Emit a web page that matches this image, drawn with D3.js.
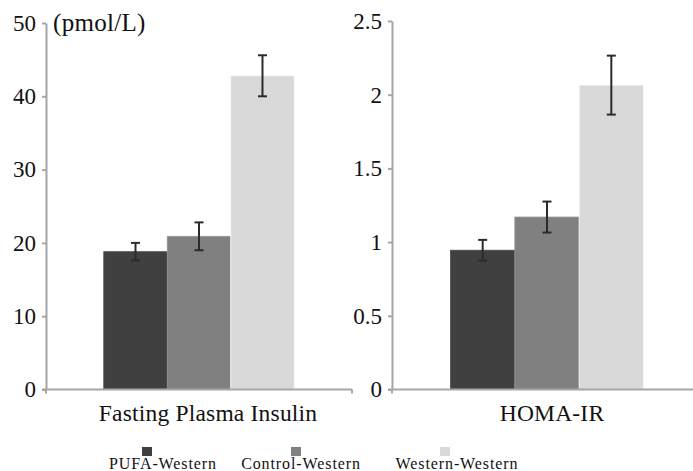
<!DOCTYPE html>
<html>
<head>
<meta charset="utf-8">
<script src="https://cdn.jsdelivr.net/npm/d3@7"></script>
<style>
  body { margin: 0; background: #fff; }
  svg { display: block; font-family: "Liberation Serif", "Times New Roman", serif; }
</style>
</head>
<body>
<svg id="chart"></svg>
<script>
const groups = ["PUFA-Western", "Control-Western", "Western-Western"];
const colors = ["#404040", "#808080", "#d9d9d9"];

const insulinMean = [18.8, 20.9, 42.8];
const insulinErr = [1.2, 1.9, 2.8];
const insulinTicks = [0, 10, 20, 30, 40, 50];

const homaMean = [0.945, 1.17, 2.065];
const homaErr = [0.07, 0.105, 0.2];
const homaTicks = [0, 0.5, 1, 1.5, 2, 2.5];

const width = 693, height = 471;
const axisColor = "#a6a6a6";

const svg = d3.select("#chart")
    .attr("width", width)
    .attr("height", height);

function drawPanel(opt) {
    const x = d3.scaleBand()
        .domain(groups)
        .range([opt.left, opt.right])
        .paddingInner(0)
        .paddingOuter(0.91);

    const y = d3.scaleLinear()
        .domain([0, opt.ticks[opt.ticks.length - 1]])
        .range([389.5, opt.top]);

    const g = svg.append("g");

    // bars
    const rows = groups.map((k, i) => ({ key: k, mean: opt.mean[i], err: opt.err[i], color: colors[i] }));
    g.selectAll(".bar")
        .data(rows)
        .enter()
        .append("rect")
        .attr("x", d => x(d.key))
        .attr("y", d => y(d.mean))
        .attr("width", x.bandwidth())
        .attr("height", d => y(0) - y(d.mean))
        .attr("fill", d => d.color)
        .attr("stroke", d => d3.color(d.color).brighter(0.4))
        .attr("stroke-width", 0.8);

    // error bars
    const eb = g.selectAll(".err")
        .data(rows)
        .enter()
        .append("g")
        .attr("stroke", "#2b2b2b")
        .attr("stroke-width", 2);
    eb.append("line")
        .attr("x1", d => x(d.key) + x.bandwidth() / 2)
        .attr("x2", d => x(d.key) + x.bandwidth() / 2)
        .attr("y1", d => y(d.mean + d.err))
        .attr("y2", d => y(d.mean - d.err));
    eb.append("line")
        .attr("x1", d => x(d.key) + x.bandwidth() / 2 - 4.5)
        .attr("x2", d => x(d.key) + x.bandwidth() / 2 + 4.5)
        .attr("y1", d => y(d.mean + d.err))
        .attr("y2", d => y(d.mean + d.err));
    eb.append("line")
        .attr("x1", d => x(d.key) + x.bandwidth() / 2 - 4.5)
        .attr("x2", d => x(d.key) + x.bandwidth() / 2 + 4.5)
        .attr("y1", d => y(d.mean - d.err))
        .attr("y2", d => y(d.mean - d.err));

    // x axis line with end ticks
    const [r0, r1] = x.range();
    g.append("line")
        .attr("x1", r0 - 4).attr("x2", r1)
        .attr("y1", y(0)).attr("y2", y(0))
        .attr("stroke", axisColor).attr("stroke-width", 2);
    [r0, r1].forEach(px => {
        g.append("line")
            .attr("x1", px).attr("x2", px)
            .attr("y1", y(0)).attr("y2", y(0) + 4)
            .attr("stroke", axisColor).attr("stroke-width", 2);
    });

    // y axis
    const ya = g.append("g")
        .attr("transform", `translate(${r0},0)`)
        .call(d3.axisLeft(y)
            .tickValues(opt.ticks)
            .tickSize(4)
            .tickSizeOuter(0)
            .tickPadding(6)
            .tickFormat(d => d3.format("")(d)));
    ya.select(".domain").attr("stroke", axisColor).attr("stroke-width", 2);
    ya.selectAll(".tick line").attr("stroke", axisColor).attr("stroke-width", 2);
    ya.selectAll(".tick text")
        .attr("font-family", "Liberation Serif")
        .attr("font-size", 23)
        .attr("fill", "#111");

    // category label
    g.append("text")
        .attr("x", opt.labelX)
        .attr("y", 421)
        .attr("text-anchor", "middle")
        .attr("font-size", 23.5)
        .attr("letter-spacing", 0.2)
        .attr("fill", "#111")
        .text(opt.label);

    return { x, y };
}

drawPanel({
    left: 46, right: 352, top: 23,
    ticks: insulinTicks, mean: insulinMean, err: insulinErr,
    label: "Fasting Plasma Insulin", labelX: 208
});

drawPanel({
    left: 392, right: 702, top: 21,
    ticks: homaTicks, mean: homaMean, err: homaErr,
    label: "HOMA-IR", labelX: 552
});

// unit label
svg.append("text")
    .attr("x", 53)
    .attr("y", 31)
    .attr("font-size", 25)
    .attr("letter-spacing", 0.3)
    .attr("fill", "#111")
    .text("(pmol/L)");

// legend
const legendX = [147, 296, 445];
const legendTextX = [163, 301, 457];
const lg = svg.append("g");
groups.forEach((name, i) => {
    lg.append("rect")
        .attr("x", legendX[i] - 5)
        .attr("y", 447)
        .attr("width", 10)
        .attr("height", 9)
        .attr("fill", colors[i]);
    lg.append("text")
        .attr("x", legendTextX[i])
        .attr("y", 469)
        .attr("text-anchor", "middle")
        .attr("font-size", 16)
        .attr("letter-spacing", 0.9)
        .attr("fill", "#111")
        .text(name);
});
</script>
</body>
</html>
